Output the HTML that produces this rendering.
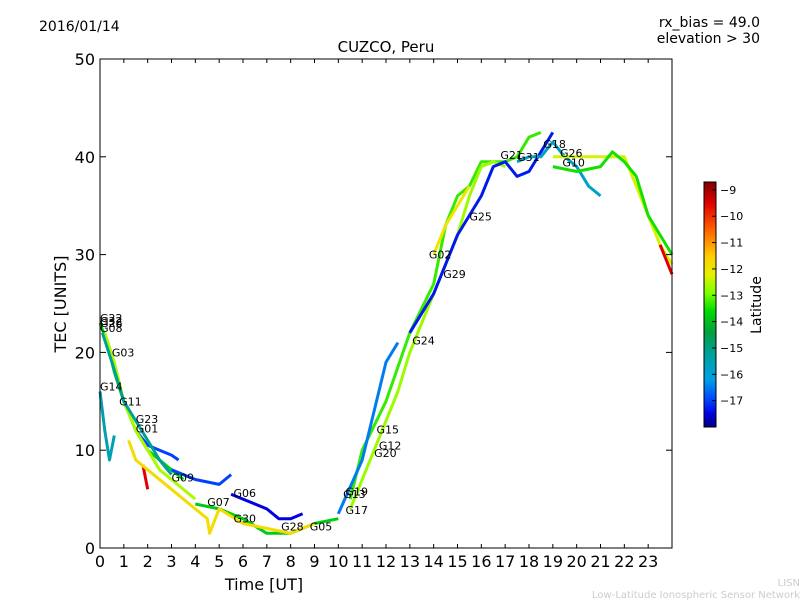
<!DOCTYPE html>
<html><head><meta charset="utf-8"><style>
body{margin:0;background:#fff;}
svg text{font-family:"DejaVu Sans","Liberation Sans",sans-serif;}
</style></head><body>
<svg id="c" width="800" height="600" viewBox="0 0 800 600" xmlns="http://www.w3.org/2000/svg">
<defs>
<linearGradient id="jet" x1="0" y1="0" x2="0" y2="1"></linearGradient>
</defs>
<rect width="800" height="600" fill="#fff"/>
<text x="39" y="31" font-size="14">2016/01/14</text>
<text x="386" y="52" font-size="15" text-anchor="middle">CUZCO, Peru</text>
<text x="760" y="27" font-size="14" text-anchor="end">rx_bias = 49.0</text>
<text x="760" y="43" font-size="14" text-anchor="end">elevation &gt; 30</text>
<g id="plot"></g>
<g id="axes"></g>
<rect x="100" y="59" width="572" height="489" fill="none" stroke="#000" stroke-width="1"/>
<text x="264" y="590" font-size="16" text-anchor="middle">Time [UT]</text>
<text transform="translate(66,304) rotate(-90)" font-size="16" text-anchor="middle">TEC [UNITS]</text>
<rect x="704" y="182" width="12" height="245" fill="url(#jet)" stroke="#000" stroke-width="1"/>
<g id="cbar"></g>
<text transform="translate(761,305) rotate(-90)" font-size="14" text-anchor="middle">Latitude</text>
<text x="800" y="586" font-size="10" fill="#ccc" text-anchor="end">LISN</text>
<text x="800" y="598" font-size="10" fill="#ccc" text-anchor="end">Low-Latitude Ionospheric Sensor Network</text>
</svg>
<script>
const xTicks=[0,1,2,3,4,5,6,7,8,9,10,11,12,13,14,15,16,17,18,19,20,21,22,23];
const yTicks=[0,10,20,30,40,50];
const cbTicks=[-9,-10,-11,-12,-13,-14,-15,-16,-17];
const seriesLat=[-13.7,-17,-15.5,-17,-13.8,-17.5,-13.3,-12.7,-12,-17.3,-15.8,-12.3,-13.5,-16.5,-9.5,-12.6,-9.5,-11.8,-15.2];
const seriesT=[
[0,0.3,0.6,1,1.5,2,2.5,3,3.5],
[1.5,2,2.5,3,3.3],
[0,0.2,0.4,0.6],
[3,4,5,5.5],
[4,5,6,7,8,9,10],
[5.5,6,7,7.5,8,8.5],
[10.5,11,12,13,14,14.5,15,15.5,16,17,17.5,18,18.5],
[10.5,11.5,12.5,13,14,15,15.5,16,16.5,17],
[14,14.5,15,15.5],
[13,14,15,16,16.5,17,17.5,18,19],
[17.5,18,18.5,19,19.5,20,20.5,21],
[19,20,21,22,22.5,23,23.5,24],
[19,20,21,21.5,22,22.5,23,24],
[10,11,11.5,12,12.5],
[23.5,24],
[0.2,0.6,1,1.5,2,2.5,3,4],
[1.8,2],
[1.2,1.5,2,3,4,4.5,4.6,5,6,7,8,9],
[0.1,0.5,1,1.5,2,2.5,3]
];
const seriesV=[
[23,21,18,15,12,10,9,8,7],
[12,10.5,10,9.5,9],
[16,12,9,11.5],
[8,7,6.5,7.5],
[4.5,4,3,1.5,1.5,2.5,3],
[5.5,5,4,3,3,3.5],
[5,10,15,22,27,33,36,37,39.5,39.5,40,42,42.5],
[4,10,16,20,26,32,36,39,39.5,39],
[30,33,35,37],
[22,26,32,36,39,39.5,38,38.5,42.5],
[39.5,40,40,41.5,40,39,37,36],
[40,40,40,40,37,34,31,29],
[39,38.5,39,40.5,39.5,38,34,30],
[3.5,9,14,19,21],
[31,28],
[22,19,15,12,10,8,7,5],
[8.5,6],
[11,9,8,6,4,3,1.5,4,2.5,2,1.5,2.5],
[22,19,15,13,11,9,7.5]
];
const satNames=["G22","G32","G26","G08","G03","G14","G11","G23","G01","G09","G07","G06","G30","G28","G05","G13","G19","G17","G15","G12","G20","G24","G29","G02","G25","G21","G31","G18","G26","G10"];
const satT=[0,0,0,0,0.5,0,0.8,1.5,1.5,3,4.5,5.6,5.6,7.6,8.8,10.2,10.3,10.3,11.6,11.7,11.5,13.1,14.4,13.8,15.5,16.8,17.5,18.6,19.3,19.4];
const satV=[23.5,23.2,23,22.5,20,16.5,15,13.2,12.2,7.2,4.7,5.6,3,2.2,2.2,5.5,5.8,3.9,12.1,10.5,9.7,21.2,28,30,33.9,40.2,40,41.3,40.4,39.4];
const NS="http://www.w3.org/2000/svg";
const X0=100,X1=672,Y0=548,Y1=59;
const cmapL=[-8.7,-9.5,-10.5,-11.5,-12.2,-12.9,-13.6,-14.4,-15.3,-16.2,-17,-17.5,-18];
const cmapC=[[128,0,0],[224,0,0],[255,96,0],[255,204,0],[230,240,0],[128,255,0],[0,220,0],[0,160,64],[0,160,160],[0,160,230],[0,64,255],[0,0,224],[0,0,128]];
function xs(t){return X0+(t/24)*(X1-X0);}
function ys(v){return Y0-(v/50)*(Y0-Y1);}
function cbY(l){return 182+(-8.7-l)/9.3*245;}
function jet(l){
if(l>=cmapL[0])return `rgb(${cmapC[0]})`;
for(let i=1;i<cmapL.length;i++){if(l>=cmapL[i]){const f=(cmapL[i-1]-l)/(cmapL[i-1]-cmapL[i]);const c=cmapC[i-1].map((a,k)=>Math.round(a+(cmapC[i][k]-a)*f));return `rgb(${c})`;}}
return `rgb(${cmapC[cmapC.length-1]})`;}
const grad=document.getElementById('jet');
cmapL.forEach((l,i)=>{const s=document.createElementNS(NS,'stop');s.setAttribute('offset',((-8.7-l)/9.3).toFixed(3));s.setAttribute('stop-color',`rgb(${cmapC[i]})`);grad.appendChild(s);});
const plot=document.getElementById('plot'),axes=document.getElementById('axes'),cb=document.getElementById('cbar');
function mk(tag,attrs,parent){const e=document.createElementNS(NS,tag);for(const k in attrs)e.setAttribute(k,attrs[k]);parent.appendChild(e);return e;}
seriesT.forEach((ts,i)=>{
const pts=ts.map((t,j)=>xs(t).toFixed(1)+','+ys(seriesV[i][j]).toFixed(1)).join(' ');
const p=mk('polyline',{points:pts,fill:'none',stroke:jet(seriesLat[i]),'stroke-width':3,'stroke-linejoin':'round'},plot);


});
satNames.forEach((n,i)=>{
const t=mk('text',{x:xs(satT[i]),y:ys(satV[i])+4,'font-size':11},plot);t.textContent=n;


});
xTicks.forEach(v=>{const x=xs(v);
mk('line',{x1:x,x2:x,y1:Y0,y2:Y0-4,stroke:'#000'},axes);
mk('line',{x1:x,x2:x,y1:Y1,y2:Y1+4,stroke:'#000'},axes);
const t=mk('text',{x:x,y:Y0+19,'font-size':16,'text-anchor':'middle'},axes);t.textContent=v;


});
yTicks.forEach(v=>{const y=ys(v);
mk('line',{x1:X0,x2:X0+6,y1:y,y2:y,stroke:'#000'},axes);
mk('line',{x1:X1,x2:X1-6,y1:y,y2:y,stroke:'#000'},axes);
const t=mk('text',{x:X0-5,y:y+6,'font-size':16,'text-anchor':'end'},axes);t.textContent=v;


});
cbTicks.forEach(v=>{const y=cbY(v);
mk('line',{x1:712,x2:716,y1:y,y2:y,stroke:'#000'},cb);
const t=mk('text',{x:720,y:y+4,'font-size':11},cb);t.textContent='\u2212'+Math.abs(v);


});
</script>
</body></html>
